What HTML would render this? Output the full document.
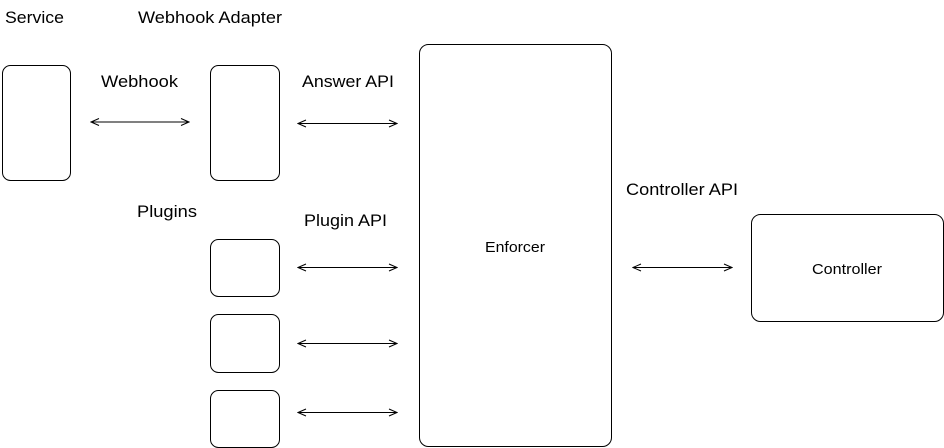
<!DOCTYPE html>
<html><head><meta charset="utf-8"><style>
html,body{margin:0;padding:0;background:#fff;}
svg{display:block;}
text{font-family:"Liberation Sans",Arial,sans-serif;fill:#000;}
</style></head><body>
<svg width="944" height="448" viewBox="0 0 944 448" xmlns="http://www.w3.org/2000/svg">
<defs>
<marker id="a" viewBox="0 0 10 10" refX="9" refY="5" markerWidth="10" markerHeight="10" markerUnits="userSpaceOnUse" orient="auto-start-reverse">
<path d="M1,1.5 L9,5 L1,8.5" fill="none" stroke="#000" stroke-width="1"/>
</marker>
</defs>
<g fill="none" stroke="#000" stroke-width="1">
<rect x="2.5" y="65.5" width="68" height="115" rx="8"/>
<rect x="210.5" y="65.5" width="69" height="115" rx="8"/>
<rect x="210.5" y="239.5" width="69" height="57" rx="8"/>
<rect x="210.5" y="314.5" width="69" height="58" rx="8"/>
<rect x="210.5" y="390.5" width="69" height="57" rx="8"/>
<rect x="419.5" y="44.5" width="192" height="402" rx="9"/>
<rect x="751.5" y="214.5" width="192" height="107" rx="9"/>
<line x1="91" y1="122" x2="189" y2="122" marker-start="url(#a)" marker-end="url(#a)"/>
<line x1="298" y1="123.5" x2="397" y2="123.5" marker-start="url(#a)" marker-end="url(#a)"/>
<line x1="298" y1="267.5" x2="397" y2="267.5" marker-start="url(#a)" marker-end="url(#a)"/>
<line x1="298" y1="343.5" x2="397" y2="343.5" marker-start="url(#a)" marker-end="url(#a)"/>
<line x1="298" y1="412.5" x2="397" y2="412.5" marker-start="url(#a)" marker-end="url(#a)"/>
<line x1="633" y1="267.5" x2="732" y2="267.5" marker-start="url(#a)" marker-end="url(#a)"/>
</g>
<g font-size="16.5">
<text x="5" y="23" textLength="59" lengthAdjust="spacingAndGlyphs">Service</text>
<text x="138" y="23" textLength="144" lengthAdjust="spacingAndGlyphs">Webhook Adapter</text>
<text x="101" y="87" textLength="77" lengthAdjust="spacingAndGlyphs">Webhook</text>
<text x="302" y="87" textLength="92" lengthAdjust="spacingAndGlyphs">Answer API</text>
<text x="137" y="217" textLength="60" lengthAdjust="spacingAndGlyphs">Plugins</text>
<text x="304" y="226" textLength="83" lengthAdjust="spacingAndGlyphs">Plugin API</text>
<text x="626" y="195" textLength="112" lengthAdjust="spacingAndGlyphs">Controller API</text>
</g>
<text x="485" y="252" font-size="15" textLength="60" lengthAdjust="spacingAndGlyphs">Enforcer</text>
<text x="812" y="274" font-size="15" textLength="70" lengthAdjust="spacingAndGlyphs">Controller</text>
</svg>
</body></html>
